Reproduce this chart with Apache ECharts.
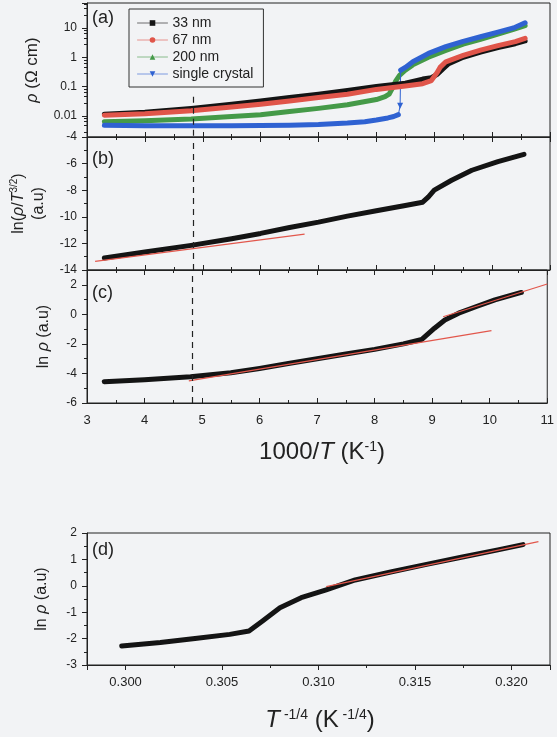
<!DOCTYPE html>
<html>
<head>
<meta charset="utf-8">
<title>resistivity vs 1000/T</title>
<script src="https://cdn.jsdelivr.net/npm/echarts@6/dist/echarts.min.js"></script>
<style>html,body{margin:0;padding:0;background:#f2f3f5;}</style>
</head>
<body>
<div id="main" style="width:557px;height:737px;"></div>
<script>
// (a) rho vs 1000/T for the four samples
var x33 = [3.3, 4.0, 4.8, 5.5, 6.0, 6.5, 7.0, 7.5, 8.0, 8.5, 8.8, 8.95, 9.05, 9.15, 9.25, 9.5, 9.8, 10.1, 10.4, 10.57];
var rho33 = [0.0114, 0.0134, 0.018, 0.025, 0.032, 0.042, 0.055, 0.073, 0.10, 0.13, 0.18, 0.20, 0.26, 0.40, 0.60, 1.0, 1.5, 2.15, 2.9, 3.6];
var x67 = [3.3, 4.0, 4.8, 5.5, 6.0, 6.5, 7.0, 7.5, 8.0, 8.5, 8.8, 8.95, 9.05, 9.1, 9.2, 9.5, 9.8, 10.1, 10.4, 10.57];
var rho67 = [0.0105, 0.0118, 0.015, 0.020, 0.025, 0.032, 0.042, 0.055, 0.08, 0.105, 0.125, 0.16, 0.30, 0.45, 0.70, 1.15, 1.75, 2.5, 3.4, 4.4];
var x200 = [3.3, 4.0, 4.8, 5.5, 6.0, 6.5, 7.0, 7.5, 8.0, 8.15, 8.22, 8.28, 8.33, 8.4, 8.5, 8.63, 8.9, 9.2, 9.5, 9.8, 10.1, 10.37, 10.57];
var rho200 = [0.0063, 0.0068, 0.0078, 0.0095, 0.011, 0.014, 0.018, 0.024, 0.036, 0.045, 0.055, 0.09, 0.15, 0.24, 0.36, 0.55, 1.0, 1.7, 2.8, 4.1, 6.2, 9.0, 12.0];
var xScLow = [3.3, 4.0, 4.8, 5.5, 6.0, 6.5, 7.0, 7.5, 7.8, 8.0, 8.2, 8.3, 8.38];
var rhoScLow = [0.0048, 0.0046, 0.0046, 0.0046, 0.0047, 0.0048, 0.0051, 0.0057, 0.0063, 0.0072, 0.0085, 0.0095, 0.011];
var xScJump = [8.38, 8.41, 8.42];
var rhoScJump = [0.011, 0.022, 0.36];
var xScHigh = [8.42, 8.5, 8.63, 8.9, 9.2, 9.5, 9.8, 10.1, 10.37, 10.57];
var rhoScHigh = [0.36, 0.45, 0.7, 1.35, 2.3, 3.5, 5.0, 7.2, 10, 15];

// (b) ln(rho/T^3/2)
var xB = [3.3, 4.0, 4.8, 5.5, 6.0, 6.5, 7.0, 7.5, 8.0, 8.5, 8.8, 8.9, 9.0, 9.3, 9.65, 10.1, 10.55];
var yB = [-13.1, -12.65, -12.15, -11.65, -11.25, -10.8, -10.4, -9.95, -9.55, -9.15, -8.9, -8.5, -8.0, -7.25, -6.5, -5.85, -5.3];
var xBfit = [3.14, 6.76];
var yBfit = [-13.35, -11.3];

// (c) ln rho
var xC = [3.3, 4.0, 4.8, 5.5, 6.0, 6.5, 7.0, 7.5, 8.0, 8.5, 8.82, 9.04, 9.22, 9.46, 9.77, 10.09, 10.55];
var yC = [-4.56, -4.42, -4.22, -3.95, -3.66, -3.33, -3.0, -2.68, -2.37, -2.0, -1.7, -0.94, -0.38, 0.08, 0.53, 0.98, 1.48];
var xCfitLow = [4.77, 10.03];
var yCfitLow = [-4.5, -1.1];
var xCfitHigh = [9.19, 11.0];
var yCfitHigh = [-0.16, 2.05];

// (d) ln rho vs T^-1/4
var xD = [0.2998, 0.3018, 0.3036, 0.3054, 0.3064, 0.3071, 0.3080, 0.3091, 0.3104, 0.3119, 0.3138, 0.3156, 0.3174, 0.3193, 0.3206];
var yD = [-2.28, -2.15, -2.0, -1.84, -1.71, -1.33, -0.83, -0.45, -0.15, 0.22, 0.53, 0.81, 1.08, 1.36, 1.56];
var xDfit = [0.3104, 0.3214];
var yDfit = [-0.03, 1.67];

var vLineX = 4.83;

var FONT = '"Liberation Sans", Arial, sans-serif';
var INK = '#222';
var BG = '#f2f3f5';
var C_BLACK = '#141414', C_RED = '#e0554a', C_GREEN = '#459a48', C_BLUE = '#2f62d2', C_FIT = '#e2574c';

function pairs(xs, ys) {
    return xs.map(function (x, i) { return [x, ys[i]]; });
}

var chart = echarts.init(document.getElementById('main'));

function frameX(gridIndex, position, showLabel) {
    return {
        type: 'value', gridIndex: gridIndex, position: position,
        min: 3, max: 11, interval: 1,
        axisLine: {show: true, onZero: false, lineStyle: {color: INK, width: 1}},
        axisTick: {show: true, inside: true, length: 5, lineStyle: {color: INK}},
        minorTick: {show: true, splitNumber: 2, length: 3, lineStyle: {color: INK}},
        splitLine: {show: false},
        axisLabel: {show: showLabel, fontSize: 13, color: INK, fontFamily: FONT, margin: 11}
    };
}

function yName(gap) {
    return {
        nameLocation: 'middle', nameGap: gap, nameRotate: 90,
        nameTextStyle: {
            fontSize: 16, color: INK, fontFamily: FONT, lineHeight: 20,
            rich: {
                i: {fontSize: 16, fontStyle: 'italic', fontFamily: FONT, color: INK},
                s: {fontSize: 10, fontFamily: FONT, color: INK, verticalAlign: 'top'}
            }
        }
    };
}

function valueY(gridIndex, min, max, interval, name, gap) {
    var ax = {
        type: 'value', gridIndex: gridIndex, min: min, max: max, interval: interval,
        name: name,
        axisLine: {show: true, onZero: false, lineStyle: {color: INK, width: 1}},
        axisTick: {show: true, inside: false, length: 5, lineStyle: {color: INK}},
        minorTick: {show: true, splitNumber: 2, length: 3, lineStyle: {color: INK}},
        splitLine: {show: false},
        axisLabel: {fontSize: 12, color: INK, fontFamily: FONT, margin: 10, showMaxLabel: gridIndex !== 2}
    };
    var n = yName(gap);
    for (var k in n) ax[k] = n[k];
    return ax;
}

function dataLine(name, xs, ys, xi, yi, color, symbol, extra) {
    var s = {
        name: name, type: 'line', xAxisIndex: xi, yAxisIndex: yi,
        data: pairs(xs, ys), showSymbol: false, symbol: symbol, symbolSize: 5,
        itemStyle: {color: color},
        lineStyle: {color: color, width: 5, cap: 'round', join: 'round'},
        z: 3
    };
    for (var k in extra || {}) s[k] = extra[k];
    return s;
}

function fitLine(name, xs, ys, xi, yi) {
    return {
        name: name, type: 'line', xAxisIndex: xi, yAxisIndex: yi,
        data: pairs(xs, ys), showSymbol: false, symbol: 'none',
        lineStyle: {color: C_FIT, width: 1.2}, z: 4
    };
}

var dashed = {silent: true, symbol: 'none', label: {show: false},
    lineStyle: {type: [6, 5], color: INK, width: 1.2}, emphasis: {disabled: true}};

function withData(obj, data) {
    var o = {};
    for (var k in obj) o[k] = obj[k];
    o.data = data;
    return o;
}

var option = {
    backgroundColor: BG,
    animation: false,
    grid: [
        {left: 87, top: 3, width: 463, height: 134, show: true, borderColor: INK, borderWidth: 1, backgroundColor: 'transparent'},
        {left: 87, top: 137, width: 463, height: 133, show: true, borderColor: INK, borderWidth: 1, backgroundColor: 'transparent'},
        {left: 87, top: 270, width: 463, height: 133, show: true, borderColor: INK, borderWidth: 1, backgroundColor: 'transparent'},
        {left: 87, top: 533, width: 463, height: 132, show: true, borderColor: INK, borderWidth: 1, backgroundColor: 'transparent'}
    ],
    legend: {
        orient: 'vertical', left: 129, top: 9,
        data: ['33 nm', '67 nm', '200 nm', 'single crystal'],
        itemWidth: 30, itemHeight: 7, itemGap: 3,
        padding: [7, 10, 6, 8],
        borderColor: '#333', borderWidth: 1, backgroundColor: BG,
        textStyle: {fontSize: 14, color: INK, fontFamily: FONT},
        lineStyle: {width: 1, opacity: 0.6},
        selectedMode: false
    },
    xAxis: [
        frameX(0, 'bottom', false),
        frameX(1, 'top', false),
        frameX(1, 'bottom', false),
        frameX(2, 'top', false),
        frameX(2, 'bottom', true),
        {
            type: 'value', gridIndex: 3, position: 'bottom', min: 0.298, max: 0.322, splitNumber: 5,
            axisLine: {show: true, onZero: false, lineStyle: {color: INK, width: 1}},
            axisTick: {show: true, inside: false, length: 5, lineStyle: {color: INK}},
            minorTick: {show: true, splitNumber: 2, length: 3, lineStyle: {color: INK}},
            splitLine: {show: false},
            axisLabel: {fontSize: 13, color: INK, fontFamily: FONT, margin: 11,
                showMinLabel: false, showMaxLabel: false,
                formatter: function (v) { return v.toFixed(3); }}
        }
    ],
    yAxis: [
        (function () {
            var ax = {
                type: 'log', logBase: 10, gridIndex: 0, min: 0.0019, max: 71,
                name: '{i|ρ} (Ω cm)',
                axisLine: {show: true, onZero: false, lineStyle: {color: INK, width: 1}},
                axisTick: {show: true, inside: false, length: 5, lineStyle: {color: INK}},
                minorTick: {show: true, splitNumber: 5, length: 3, lineStyle: {color: INK}},
                splitLine: {show: false},
                axisLabel: {fontSize: 12, color: INK, fontFamily: FONT, margin: 10,
                    formatter: function (v) {
                        var l = Math.log10(v), e = Math.round(l);
                        if (Math.abs(l - e) > 1e-6) return '';
                        if (e >= 0) return String(Math.pow(10, e));
                        return '0.' + new Array(-e).join('0') + '1';
                    }}
            };
            var n = yName(41);
            n.nameTextStyle.fontSize = 17;
            for (var k in n) ax[k] = n[k];
            return ax;
        })(),
        valueY(1, -14, -4, 2, 'ln({i|ρ}/{i|T}{s|3/2})\n(a.u)', 36),
        valueY(2, -6, 3, 2, 'ln {i|ρ} (a.u)', 33),
        valueY(3, -3, 2, 1, 'ln {i|ρ} (a.u)', 35)
    ],
    graphic: [
        {type: 'text', left: 92, top: 9, style: {text: '(a)', fontSize: 18, fill: INK, fontFamily: FONT}},
        {type: 'text', left: 92, top: 150, style: {text: '(b)', fontSize: 18, fill: INK, fontFamily: FONT}},
        {type: 'text', left: 92, top: 284, style: {text: '(c)', fontSize: 18, fill: INK, fontFamily: FONT}},
        {type: 'text', left: 92, top: 541, style: {text: '(d)', fontSize: 18, fill: INK, fontFamily: FONT}},
        {type: 'text', x: 322, y: 452, style: {
            text: '{n|1000/}{i|T}{n| (K}{s|-1}{n|)}', align: 'center', verticalAlign: 'middle',
            rich: {
                n: {fontSize: 24, fontFamily: FONT, fill: INK},
                i: {fontSize: 24, fontFamily: FONT, fontStyle: 'italic', fill: INK},
                s: {fontSize: 14, fontFamily: FONT, fill: INK, verticalAlign: 'top'}
            }}},
        {type: 'text', x: 320, y: 720, style: {
            text: '{i|T}{s| -1/4}{n| (K}{s| -1/4}{n|)}', align: 'center', verticalAlign: 'middle',
            rich: {
                n: {fontSize: 24, fontFamily: FONT, fill: INK},
                i: {fontSize: 24, fontFamily: FONT, fontStyle: 'italic', fill: INK},
                s: {fontSize: 14, fontFamily: FONT, fill: INK, verticalAlign: 'top'}
            }}}
    ],
    series: [
        dataLine('200 nm', x200, rho200, 0, 0, C_GREEN, 'triangle'),
        dataLine('single crystal', xScLow, rhoScLow, 0, 0, C_BLUE, 'triangle', {symbolRotate: 180}),
        {
            name: 'single crystal', type: 'line', xAxisIndex: 0, yAxisIndex: 0,
            data: pairs(xScJump, rhoScJump), symbol: 'triangle', symbolRotate: 180, showAllSymbol: true,
            symbolSize: function (v, p) { return p.dataIndex === 1 ? 6 : 0; },
            itemStyle: {color: C_BLUE}, lineStyle: {color: C_BLUE, width: 1}, z: 3
        },
        dataLine('single crystal', xScHigh, rhoScHigh, 0, 0, C_BLUE, 'triangle', {symbolRotate: 180}),
        dataLine('33 nm', x33, rho33, 0, 0, C_BLACK, 'rect', {
            markLine: withData(dashed, [[{coord: [vLineX, 0.045]}, {coord: [vLineX, 0.0019]}]])
        }),
        dataLine('67 nm', x67, rho67, 0, 0, C_RED, 'circle'),

        dataLine('b', xB, yB, 2, 1, C_BLACK, 'rect', {markLine: withData(dashed, [{xAxis: vLineX}])}),
        fitLine('b fit', xBfit, yBfit, 2, 1),

        dataLine('c', xC, yC, 4, 2, C_BLACK, 'rect', {markLine: withData(dashed, [{xAxis: vLineX}])}),
        fitLine('c fit low', xCfitLow, yCfitLow, 4, 2),
        fitLine('c fit high', xCfitHigh, yCfitHigh, 4, 2),

        dataLine('d', xD, yD, 5, 3, C_BLACK, 'rect'),
        fitLine('d fit', xDfit, yDfit, 5, 3)
    ]
};

chart.setOption(option);
</script>
</body>
</html>
